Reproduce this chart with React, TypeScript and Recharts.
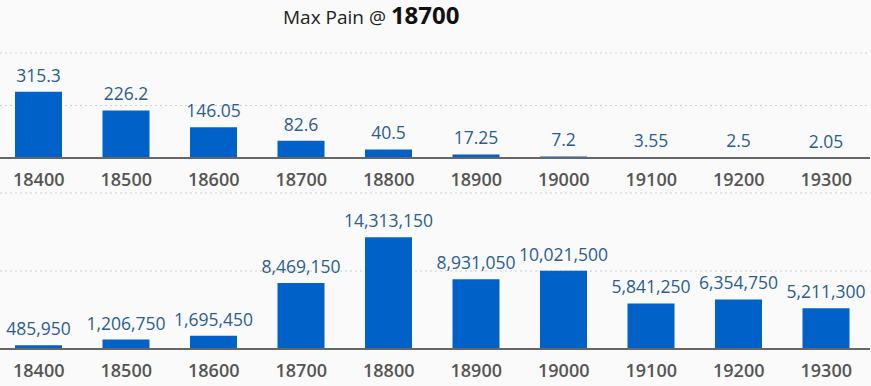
import { BarChart, Bar, XAxis, YAxis, CartesianGrid, LabelList } from 'recharts';

const strikes = ['18400', '18500', '18600', '18700', '18800', '18900', '19000', '19100', '19200', '19300'];
const painValues = [315.3, 226.2, 146.05, 82.6, 40.5, 17.25, 7.2, 3.55, 2.5, 2.05];
const oiValues = [485950, 1206750, 1695450, 8469150, 14313150, 8931050, 10021500, 5841250, 6354750, 5211300];
const painTicks = [0, 250, 500];
const oiTicks = [0, 10000000];
const maxPainStrike = '18700';

const BAR = '#0062c8';
const LABEL = '#2b5d8f';
const FONT = '"Open Sans", "DejaVu Sans", sans-serif';

const painData = strikes.map((strike, i) => ({ strike, value: painValues[i] }));
const oiData = strikes.map((strike, i) => ({ strike, value: oiValues[i] }));

const axisProps = {
  dataKey: 'strike',
  interval: 0 as const,
  tickLine: false,
  tickMargin: 9,
  axisLine: { stroke: '#666', strokeWidth: 2 },
  tick: { fill: '#555', fontSize: 18, fontWeight: 600, fontFamily: FONT },
};

const labelStyle = { fill: LABEL, fontSize: 17.5, fontFamily: FONT };

export default function App() {
  return (
    <div style={{ position: 'absolute', left: 0, top: 0, width: 871, height: 386, background: '#fafafa', overflow: 'hidden' }}>
      <div style={{ position: 'absolute', left: -5, top: 0 }}>
        <BarChart width={875} height={200} data={painData} margin={{ top: 53, right: 0, bottom: 0, left: 0 }} barSize={47}>
          <CartesianGrid vertical={false} stroke="#cfcfcf" strokeDasharray="2 3" />
          <YAxis hide domain={[0, 500]} ticks={painTicks} />
          <XAxis {...axisProps} height={42} />
          <Bar dataKey="value" fill={BAR} isAnimationActive={false}>
            <LabelList dataKey="value" position="top" offset={10} style={labelStyle} />
          </Bar>
        </BarChart>
      </div>

      <div style={{ position: 'absolute', left: -5, top: 190 }}>
        <BarChart width={875} height={196} data={oiData} margin={{ top: 3, right: 0, bottom: 0, left: 0 }} barSize={47}>
          <CartesianGrid vertical={false} stroke="#cfcfcf" strokeDasharray="2 3" />
          <YAxis hide domain={[0, 20000000]} ticks={oiTicks} />
          <XAxis {...axisProps} height={37} />
          <Bar dataKey="value" fill={BAR} isAnimationActive={false}>
            <LabelList
              dataKey="value"
              position="top"
              offset={10}
              style={labelStyle}
              formatter={(v: number) => v.toLocaleString('en-US')}
            />
          </Bar>
        </BarChart>
      </div>

      {/* title on top of the pain chart */}
      <div
        style={{
          position: 'absolute',
          left: 283,
          top: 0,
          lineHeight: '30px',
          whiteSpace: 'nowrap',
          fontFamily: FONT,
          fontSize: 19,
          color: '#222',
        }}
      >
        Max Pain @ <span style={{ fontSize: 24, fontWeight: 700, color: '#111' }}>{maxPainStrike}</span>
      </div>
    </div>
  );
}
